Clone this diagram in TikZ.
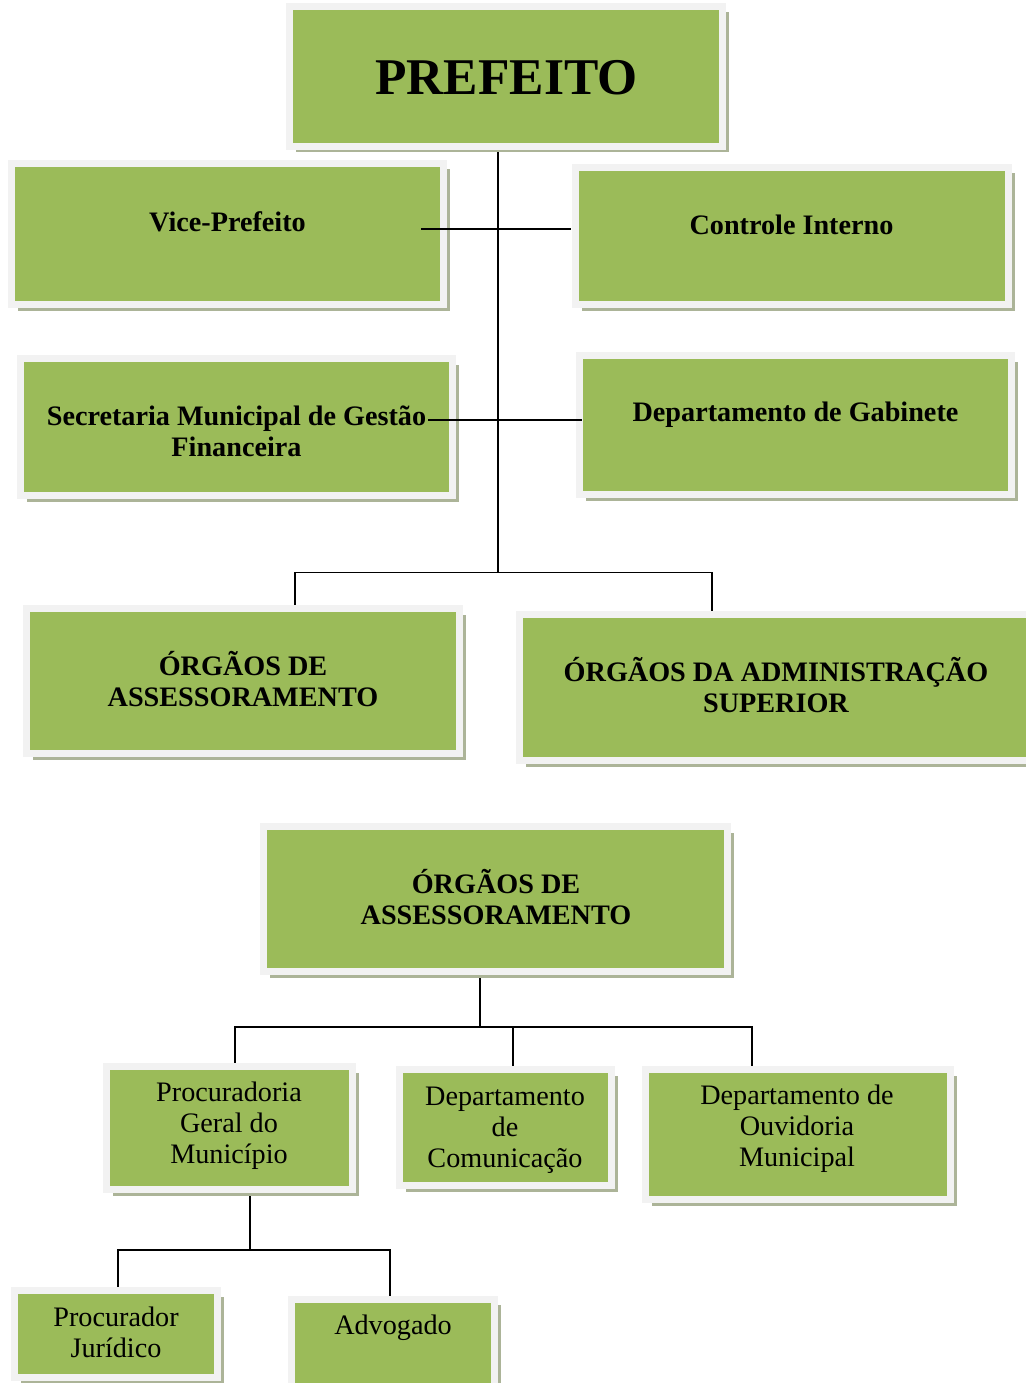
\documentclass[tikz,border=0pt]{standalone}
\usepackage{fontspec}
\setmainfont{Liberation Serif}
\usetikzlibrary{shadows}
\definecolor{boxgreen}{HTML}{9BBB59}
\definecolor{boxedge}{HTML}{F2F2F2}
\definecolor{boxshadow}{RGB}{172,180,152}
\pgfdeclarelayer{back}
\pgfdeclarelayer{bg}
\pgfsetlayers{back,bg,main}
\begin{document}
\begin{tikzpicture}[x=1pt,y=-1pt,
  orgbox/.style={draw=boxedge, line width=7pt, fill=boxgreen, inner sep=0pt,
    drop shadow={shadow xshift=6pt, shadow yshift=-6pt, fill=boxshadow, opacity=1}},
  boldtxt/.style={font=\bfseries\fontsize{28.2}{31}\selectfont, align=center, anchor=base, inner sep=0pt},
  regtxt/.style={font=\fontsize{28.2}{31}\selectfont, align=center, anchor=base, inner sep=0pt},
  link/.style={line width=1.4pt, black}]
\useasboundingbox (0,0) rectangle (1025,1383);
\begin{pgfonlayer}{back}
  \fill[white] (0,0) rectangle (1025,1383);
\end{pgfonlayer}

% boxes
\node[orgbox, minimum width=433pt, minimum height=140pt] (prefeito) at (506,76.5) {};
\node[orgbox, minimum width=432pt, minimum height=141pt] (vice) at (227.5,234) {};
\node[orgbox, minimum width=433pt, minimum height=137pt] (controle) at (792,236) {};
\node[orgbox, minimum width=432pt, minimum height=137pt] (secretaria) at (236.5,427) {};
\node[orgbox, minimum width=432pt, minimum height=139pt] (gabinete) at (795.5,425) {};
\node[orgbox, minimum width=433pt, minimum height=145pt] (assess) at (243,681) {};
\node[orgbox, minimum width=516pt, minimum height=146pt] (adminsup) at (777.5,687.5) {};
\node[orgbox, minimum width=464pt, minimum height=145pt] (assess2) at (495.5,899) {};
\node[orgbox, minimum width=246pt, minimum height=123pt] (procuradoria) at (229.5,1128) {};
\node[orgbox, minimum width=212pt, minimum height=116pt] (comunicacao) at (505.5,1127.5) {};
\node[orgbox, minimum width=305pt, minimum height=130pt] (ouvidoria) at (798,1134.5) {};
\node[orgbox, minimum width=203pt, minimum height=87pt] (procurador) at (116,1334) {};
\node[orgbox, minimum width=203pt, minimum height=104pt] (advogado) at (393,1351) {};

% texts
\node[boldtxt, font=\bfseries\fontsize{51.5}{56}\selectfont] (tprefeito) at (506.5,94.5) {PREFEITO};
\node[boldtxt] (tvice) at (227.5,231) {Vice-Prefeito};
\node[boldtxt] (tcontrole) at (791.5,234.5) {Controle Interno};
\node[boldtxt] (tsecretaria) at (236.5,456.5) {Secretaria Municipal de Gestão\\Financeira};
\node[boldtxt] (tgabinete) at (795.5,421.5) {Departamento de Gabinete};
\node[boldtxt] (tassess) at (243,706.5) {ÓRGÃOS DE\\ASSESSORAMENTO};
\node[boldtxt] (tadminsup) at (776,712) {ÓRGÃOS DA ADMINISTRAÇÃO\\SUPERIOR};
\node[boldtxt] (tassess2) at (496,924.5) {ÓRGÃOS DE\\ASSESSORAMENTO};
\node[regtxt] (tprocuradoria) at (229,1163.5) {Procuradoria\\Geral do\\Município};
\node[regtxt] (tcomunicacao) at (505,1167.5) {Departamento\\de\\Comunicação};
\node[regtxt] (touvidoria) at (797,1166.5) {Departamento de\\Ouvidoria\\Municipal};
\node[regtxt] (tprocurador) at (116,1357.5) {Procurador\\Jurídico};
\node[regtxt] (tadvogado) at (393,1334) {Advogado};

% junction coordinates
\coordinate (tr) at (498,572.5);
\coordinate (jl) at (295,572.5);
\coordinate (jr) at (712,572.5);
\coordinate (c1a) at (421,229);
\coordinate (c1b) at (571,229);
\coordinate (c2a) at (428,420);
\coordinate (c2b) at (582,420);
\coordinate (j2) at (480,1027);
\coordinate (p2l) at (235,1027);
\coordinate (p2m) at (513,1027);
\coordinate (p2r) at (752,1027);
\coordinate (j3) at (250,1250);
\coordinate (p3l) at (118,1250);
\coordinate (p3r) at (390,1250);

\begin{pgfonlayer}{bg}
  \draw[link] (prefeito.south -| tr) -- (tr);
  \draw[link] (jl |- assess.north) -- (jl) -- (jr) -- (jr |- adminsup.north);
  \draw[link] (assess2.south -| j2) -- (j2);
  \draw[link] (p2l |- procuradoria.north) -- (p2l) -- (p2r) -- (p2r |- ouvidoria.north);
  \draw[link] (p2m) -- (p2m |- comunicacao.north);
  \draw[link] (procuradoria.south -| j3) -- (j3);
  \draw[link] (p3l |- procurador.north) -- (p3l) -- (p3r) -- (p3r |- advogado.north);
\end{pgfonlayer}
\draw[link] (c1a) -- (c1b);
\draw[link] (c2a) -- (c2b);
\end{tikzpicture}
\end{document}
